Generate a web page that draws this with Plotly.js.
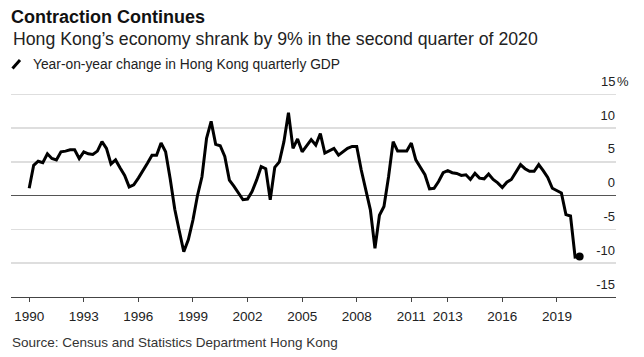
<!DOCTYPE html>
<html>
<head>
<meta charset="utf-8">
<script src="https://cdn.plot.ly/plotly-3.0.1.min.js"></script>
<style>
  html, body { margin: 0; padding: 0; background: #fff; }
  #chart { width: 644px; height: 357px; }
</style>
</head>
<body>
<div id="chart"></div>
<script>
// Quarterly periods 1990Q1 .. 2020Q2 (first day of each quarter)
const startYear = 1990;
const gdpYoY = [
  1.1, 4.5, 5.1, 4.9,     // 1990
  6.2, 5.5, 5.3, 6.5,     // 1991
  6.6, 6.8, 6.8, 5.5,     // 1992
  6.5, 6.2, 6.1, 6.6,     // 1993
  8.0, 7.0, 4.7, 5.3,     // 1994
  4.1, 3.0, 1.3, 1.6,     // 1995
  2.6, 3.6, 4.8, 6.0,     // 1996
  6.0, 7.8, 6.5, 2.5,     // 1997
  -2.0, -5.2, -8.3, -6.5, // 1998
  -3.6, 0.0, 2.8, 8.5,    // 1999
  11.0, 7.6, 7.4, 5.8,    // 2000
  2.3, 1.4, 0.4, -0.6,    // 2001
  -0.5, 0.6, 2.3, 4.3,    // 2002
  4.0, -0.6, 4.2, 5.0,    // 2003
  8.0, 12.3, 7.0, 8.4,    // 2004
  6.5, 7.4, 8.3, 7.5,     // 2005
  9.2, 6.3, 6.7, 7.0,     // 2006
  6.0, 6.5, 7.0, 7.3,     // 2007
  7.3, 3.8, 0.8, -2.1,    // 2008
  -7.8, -2.9, -1.6, 2.8,  // 2009
  8.0, 6.6, 6.6, 6.6,     // 2010
  7.8, 5.3, 4.2, 3.1,     // 2011
  1.0, 1.1, 2.1, 3.4,     // 2012
  3.7, 3.4, 3.3, 3.0,     // 2013
  3.1, 2.4, 3.3, 2.6,     // 2014
  2.5, 3.2, 2.4, 1.9,     // 2015
  1.2, 2.0, 2.4, 3.5,     // 2016
  4.6, 4.0, 3.6, 3.6,     // 2017
  4.6, 3.7, 2.7, 1.1,     // 2018
  0.7, 0.4, -2.8, -3.0,   // 2019
  -9.1, -9.0              // 2020
];
const xTickYears = ['1990','1993','1996','1999','2002','2005','2008','2011','2013','2016','2019'];
const yTickValues = [-15, -10, -5, 0, 5, 10, 15];
const yTickLabels = ['-15', '-10', '-5', '0', '5', '10', '15'];

const titleText = 'Contraction Continues';
const subtitleText = 'Hong Kong\u2019s economy shrank by 9% in the second quarter of 2020';
const legendText = 'Year-on-year change in Hong Kong quarterly GDP';
const sourceText = 'Source: Census and Statistics Department Hong Kong';

const monthOf = ['01', '04', '07', '10'];
const periods = gdpYoY.map((_, i) => {
  const y = startYear + Math.floor(i / 4);
  return y + '-' + monthOf[i % 4] + '-01';
});

const FONT = '"Liberation Sans", Arial, "Helvetica Neue", Helvetica, sans-serif';
const W = 644, H = 357;
const M = { l: 11, r: 28, t: 91, b: 60 };
const Y_RANGE = [-15, 15.5];
const pw = W - M.l - M.r, ph = H - M.t - M.b;
const px = x => (x - M.l) / pw;
const py = y => (H - M.b - y) / ph;
// top tick (15) label is drawn as an annotation, since it sits above the plot area
const topTick = yTickValues[yTickValues.length - 1];
const topTickPaperY = (topTick - Y_RANGE[0]) / (Y_RANGE[1] - Y_RANGE[0]);
const labelLift = 13 / ph;

const traces = [
  {
    type: 'scatter', mode: 'lines',
    x: periods, y: gdpYoY,
    line: { color: '#000', width: 3, shape: 'linear' },
    hoverinfo: 'skip', showlegend: false
  },
  {
    type: 'scatter', mode: 'markers',
    x: [periods[periods.length - 1]], y: [gdpYoY[gdpYoY.length - 1]],
    marker: { color: '#000', size: 8 },
    hoverinfo: 'skip', showlegend: false
  }
];

const layout = {
  width: W, height: H,
  margin: M,
  paper_bgcolor: '#fff', plot_bgcolor: '#fff',
  font: { family: FONT, color: '#222' },
  showlegend: false,
  title: {
    text: '<b>' + titleText + '</b>',
    font: { family: FONT, size: 18, color: '#111' },
    xref: 'container', yref: 'container',
    x: 11 / W, xanchor: 'left',
    y: 1 - 17 / H, yanchor: 'middle'
  },
  xaxis: {
    type: 'date',
    range: ['1989-01-01', '2022-04-01'],
    tickmode: 'array',
    tickvals: xTickYears.map(y => y + '-01-01'),
    ticktext: xTickYears,
    ticks: 'outside', ticklen: 4, tickwidth: 1, tickcolor: '#444',
    ticklabelstandoff: 3,
    showline: true, linecolor: '#444', linewidth: 1,
    showgrid: false, zeroline: false,
    tickfont: { family: FONT, size: 13.5, color: '#222' },
    fixedrange: true
  },
  yaxis: {
    side: 'right',
    range: Y_RANGE,
    tickmode: 'array',
    tickvals: yTickValues,
    ticktext: yTickLabels.map((t, i) => yTickValues[i] === topTick ? '' : t),
    ticks: '',
    ticklabelposition: 'inside',
    ticklabelshift: -13,
    ticklabelstandoff: -2,
    showgrid: true, gridcolor: '#dedede', gridwidth: 1.5,
    zeroline: true, zerolinecolor: '#555', zerolinewidth: 1.2,
    showline: false,
    tickfont: { family: FONT, size: 13, color: '#222' },
    fixedrange: true
  },
  annotations: [
    {
      text: subtitleText, xref: 'paper', yref: 'paper',
      x: px(11), y: py(39), xanchor: 'left', yanchor: 'middle',
      showarrow: false, font: { family: FONT, size: 17.7, color: '#222' }
    },
    {
      text: legendText, xref: 'paper', yref: 'paper',
      x: px(31), y: py(64), xanchor: 'left', yanchor: 'middle',
      showarrow: false, font: { family: FONT, size: 13.8, color: '#222' }
    },
    {
      text: yTickLabels[yTickLabels.length - 1], xref: 'paper', yref: 'paper',
      x: px(617), y: topTickPaperY + labelLift, xanchor: 'right', yanchor: 'middle',
      showarrow: false, font: { family: FONT, size: 13, color: '#222' }
    },
    {
      text: '%', xref: 'paper', yref: 'paper',
      x: px(615), y: topTickPaperY + labelLift, xanchor: 'left', yanchor: 'middle',
      showarrow: false, font: { family: FONT, size: 13, color: '#222' }
    },
    {
      text: sourceText, xref: 'paper', yref: 'paper',
      x: px(10), y: py(342), xanchor: 'left', yanchor: 'middle',
      showarrow: false, font: { family: FONT, size: 13.5, color: '#333' }
    }
  ],
  shapes: [
    {
      type: 'line', xref: 'paper', yref: 'paper',
      x0: px(12.5), y0: py(68.5), x1: px(20), y1: py(60),
      line: { color: '#000', width: 3 }
    }
  ]
};

Plotly.newPlot('chart', traces, layout, { displayModeBar: false, staticPlot: true });
</script>
</body>
</html>
